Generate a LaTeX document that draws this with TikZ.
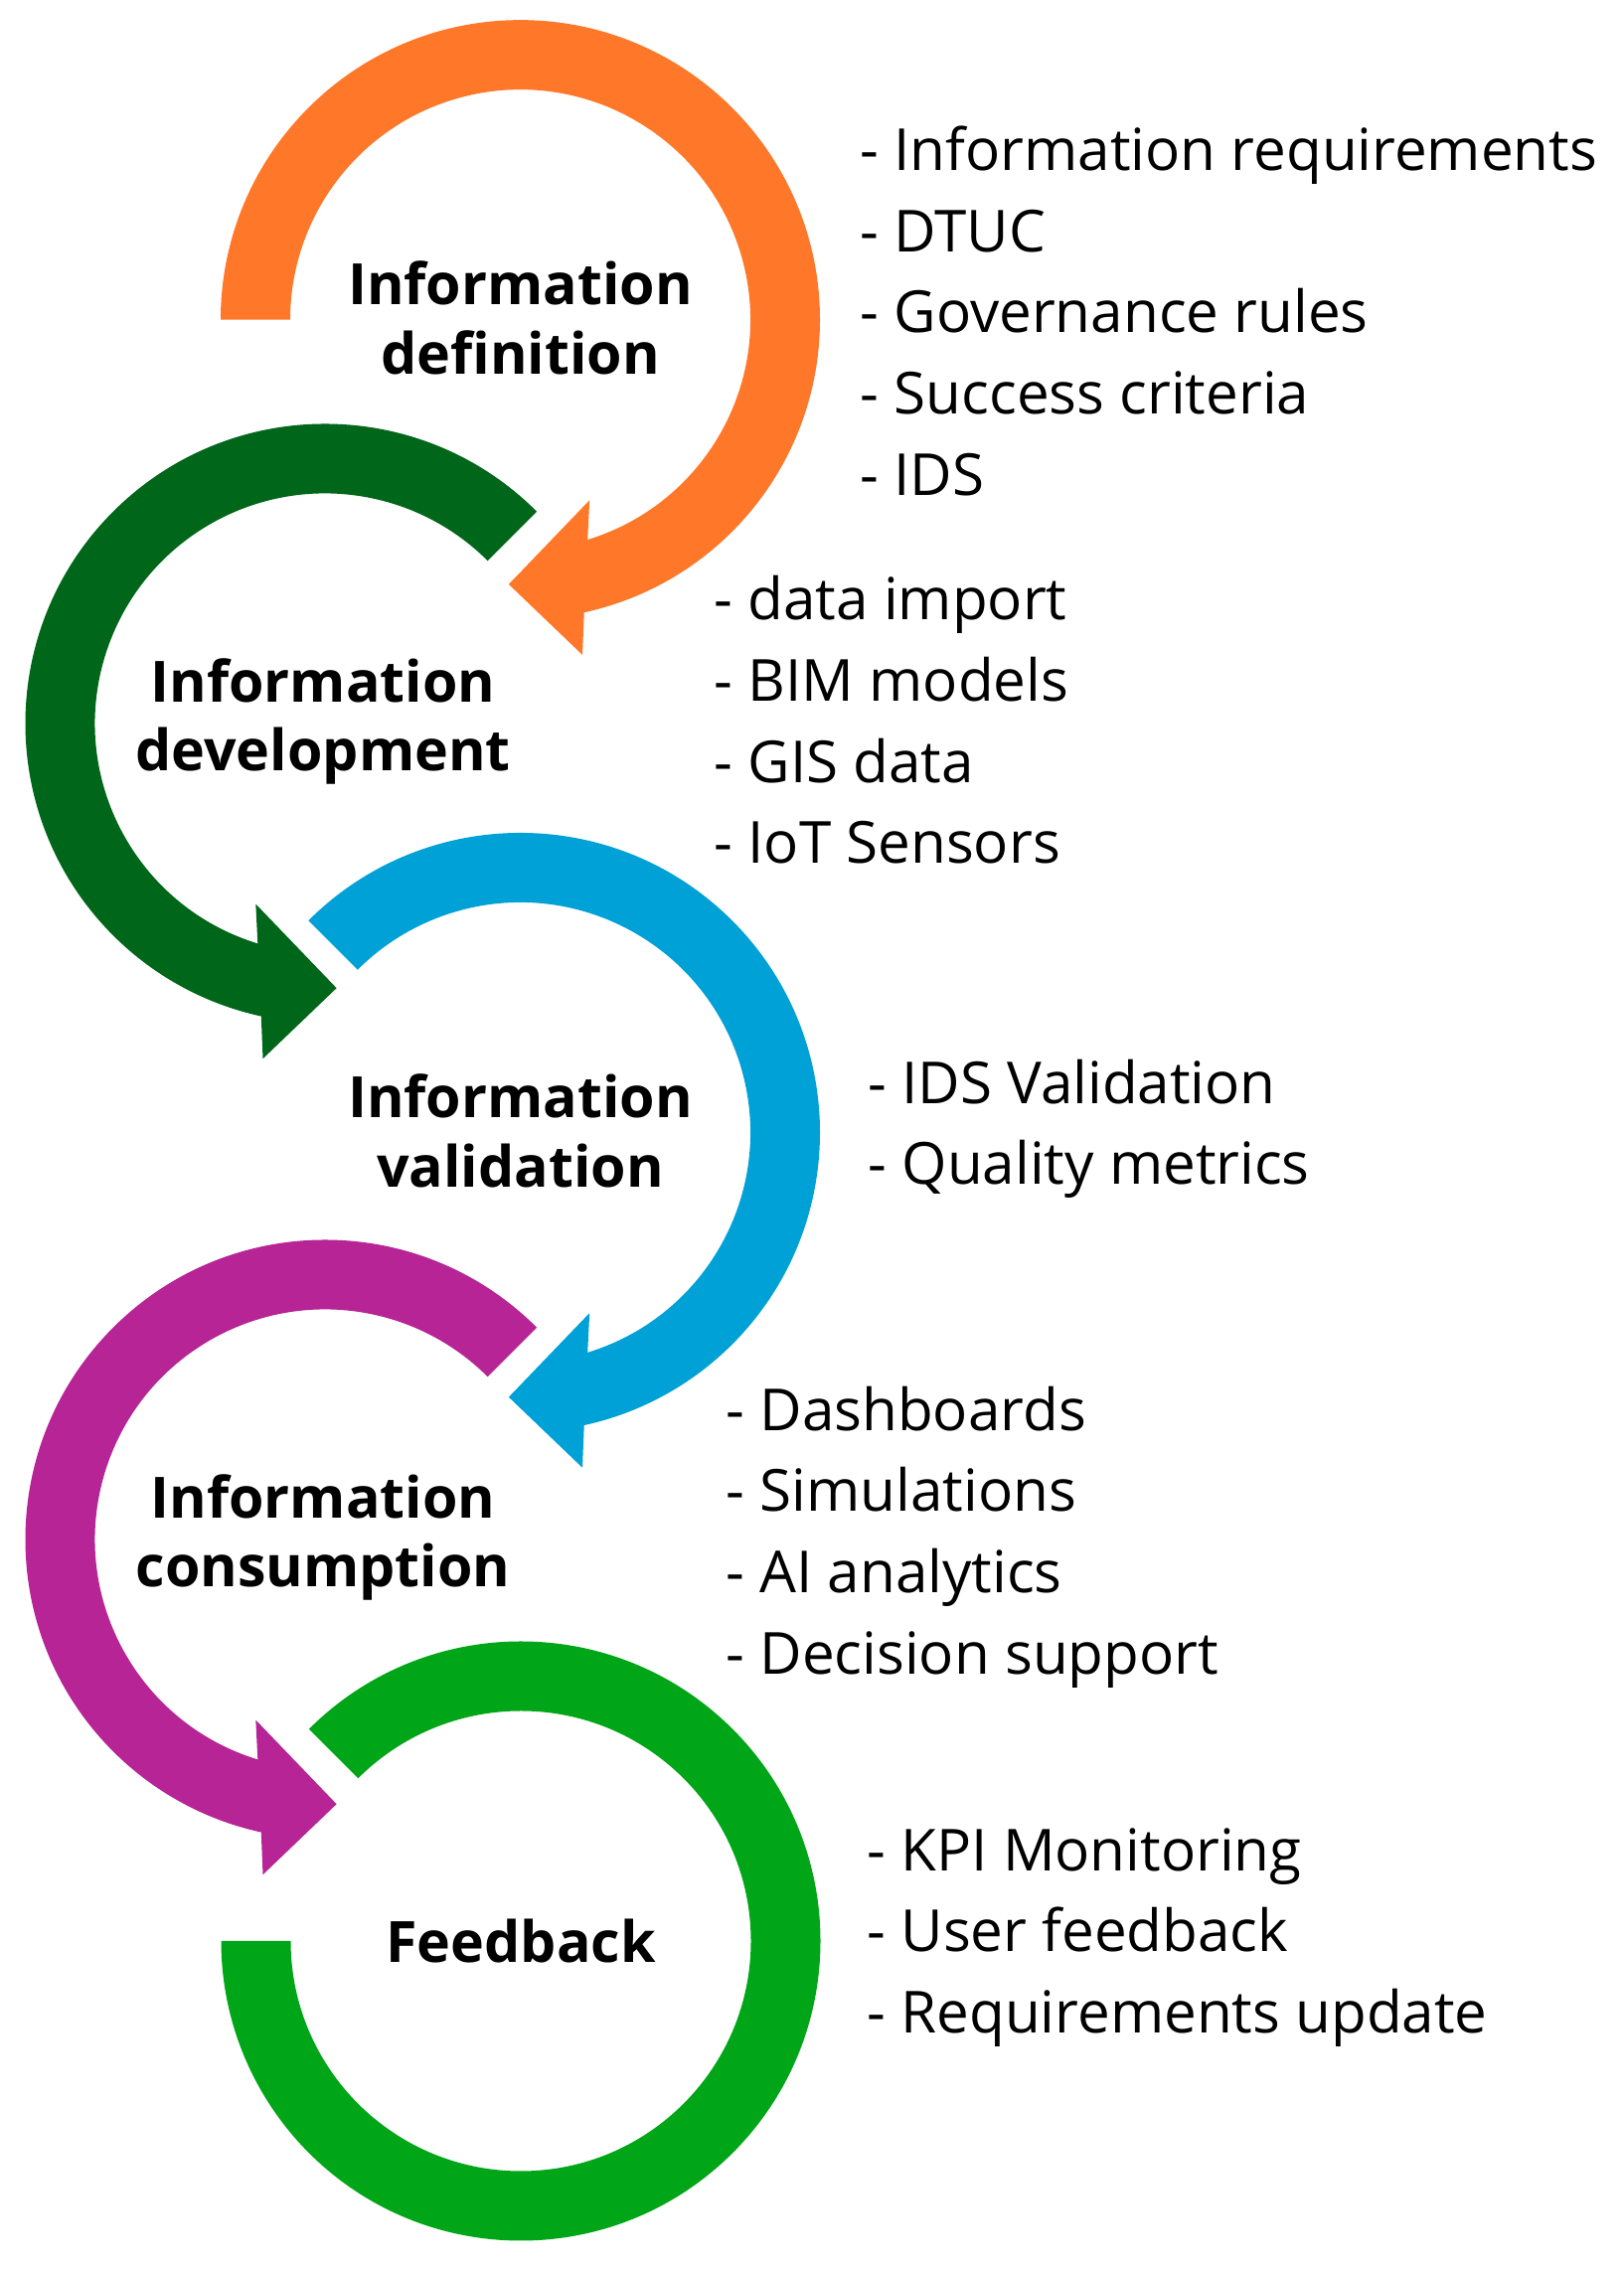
\documentclass[tikz,border=0pt]{standalone}
\usepackage{fontspec}
\setmainfont{Open Sans}
\definecolor{deforange}{RGB}{255, 119, 41}
\definecolor{devgreen}{RGB}{0, 102, 25}
\definecolor{valblue}{RGB}{0, 161, 214}
\definecolor{conspurple}{RGB}{182, 36, 150}
\definecolor{fbgreen}{RGB}{0, 166, 23}
\usetikzlibrary{positioning}

\begin{document}
\begin{tikzpicture}[
    stage/.style={font=\fontsize{16.3}{19.8}\selectfont\bfseries, align=center, inner sep=0pt},
    items/.style={font=\fontsize{16.6}{23.27}\selectfont, align=left, anchor=north west, inner sep=0pt}
  ]
  \fill[white] (0, 0) rectangle (16.33, 22.84);
  \useasboundingbox (0, 0) rectangle (16.33, 22.84);

  % Information definition (clockwise, from the left)
  \begin{scope}[shift={(5.235, 19.623)}]
    \fill[deforange] (180:3.015) arc[start angle=180, end angle=-77.7, radius=3.015] -- (-79.5:3.43) -- (-92.5:2.665) -- (-69:1.945) -- (-73:2.315) arc[start angle=-73, end angle=180, radius=2.315] -- cycle;
  \end{scope}

  % Information development (mirrored)
  \begin{scope}[shift={(3.27, 15.56)}, xscale=-1]
    \fill[devgreen] (135:3.015) arc[start angle=135, end angle=-77.7, radius=3.015] -- (-79.5:3.43) -- (-92.5:2.665) -- (-69:1.945) -- (-73:2.315) arc[start angle=-73, end angle=135, radius=2.315] -- cycle;
  \end{scope}

  % Information validation
  \begin{scope}[shift={(5.235, 11.445)}]
    \fill[valblue] (135:3.015) arc[start angle=135, end angle=-77.7, radius=3.015] -- (-79.5:3.43) -- (-92.5:2.665) -- (-69:1.945) -- (-73:2.315) arc[start angle=-73, end angle=135, radius=2.315] -- cycle;
  \end{scope}

  % Information consumption (mirrored)
  \begin{scope}[shift={(3.27, 7.35)}, xscale=-1]
    \fill[conspurple] (135:3.015) arc[start angle=135, end angle=-77.7, radius=3.015] -- (-79.5:3.43) -- (-92.5:2.665) -- (-69:1.945) -- (-73:2.315) arc[start angle=-73, end angle=135, radius=2.315] -- cycle;
  \end{scope}

  % Feedback ring, no head
  \begin{scope}[shift={(5.24, 3.31)}]
    \fill[fbgreen] (135:3.015) arc[start angle=135, end angle=-180, radius=3.015] -- (180:2.315) arc[start angle=-180, end angle=135, radius=2.315] -- cycle;
  \end{scope}

  % Stage names
  \node[stage] (defn) at (5.235, 19.64) {Information\\definition};
  \node[stage] (devel) at (3.25, 15.58) {Information\\development};
  \node[stage] (valid) at (5.235, 11.46) {Information\\validation};
  \node[stage] (consum) at (3.25, 7.37) {Information\\consumption};
  \node[stage] (feedb) at (5.24, 3.31) {Feedback};

  % Item lists
  \node[items] (defnitems) at (8.65, 21.58) {- Information requirements\\- DTUC\\- Governance rules\\- Success criteria\\- IDS};
  \node[items] (develitems) at (7.18, 17.055) {- data import\\- BIM models\\- GIS data\\- IoT Sensors};
  \node[items] (validitems) at (8.73, 12.19) {- IDS Validation\\- Quality metrics};
  \node[items] (consumitems) at (7.30, 8.90) {- Dashboards\\- Simulations\\- AI analytics\\- Decision support};
  \node[items] (feedbitems) at (8.72, 4.455) {- KPI Monitoring\\- User feedback\\- Requirements update};
\end{tikzpicture}
\end{document}
